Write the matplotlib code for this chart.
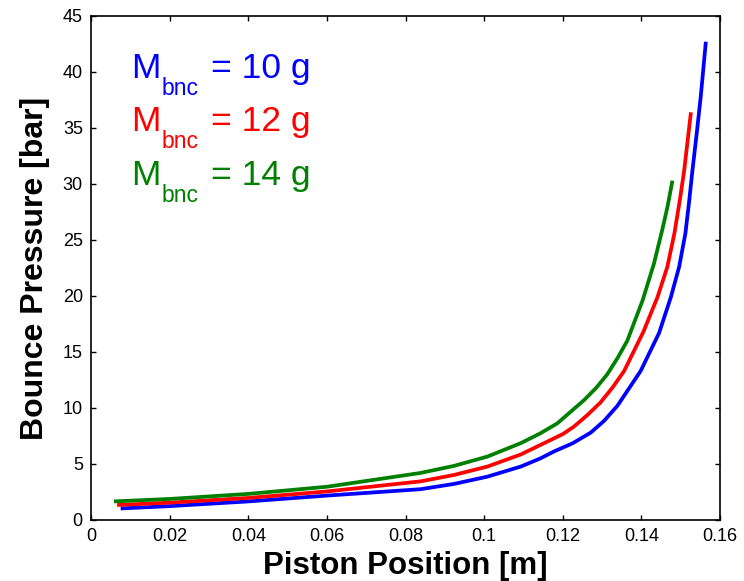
import matplotlib
matplotlib.use("Agg")
import matplotlib.pyplot as plt

plt.rcParams['font.family'] = ['Liberation Sans', 'DejaVu Sans']

# Bounce chamber pressure vs. piston position for three bouncer masses
pos_10g = [0.0075, 0.02, 0.04, 0.06, 0.0838, 0.0923, 0.1008, 0.1093, 0.1143,
           0.1177, 0.1225, 0.1271, 0.1305, 0.1339, 0.1398, 0.1445, 0.1475,
           0.1496, 0.1512, 0.1521, 0.1530, 0.1541, 0.1551, 0.1564]
p_10g = [1.03, 1.24, 1.66, 2.18, 2.75, 3.22, 3.87, 4.77, 5.5,
         6.11, 6.85, 7.8, 8.85, 10.2, 13.3, 16.7, 19.9,
         22.6, 25.6, 28.3, 31.25, 34.6, 37.8, 42.7]

pos_12g = [0.0066, 0.02, 0.04, 0.06, 0.0838, 0.0923, 0.1008, 0.1093, 0.1143,
           0.12, 0.1228, 0.1262, 0.1296, 0.1326, 0.1356, 0.1405, 0.1441,
           0.1466, 0.1484, 0.1498, 0.1509, 0.1526]
p_12g = [1.34, 1.55, 1.97, 2.55, 3.45, 4.02, 4.77, 5.85, 6.7,
         7.67, 8.33, 9.35, 10.5, 11.8, 13.3, 16.8, 19.9,
         22.6, 25.6, 28.6, 31.25, 36.4]

pos_14g = [0.0058, 0.02, 0.04, 0.06, 0.0838, 0.0923, 0.1008, 0.1093, 0.1143,
           0.1186, 0.1254, 0.1285, 0.1313, 0.1340, 0.1364, 0.1403, 0.1432,
           0.1453, 0.1466, 0.1479]
p_14g = [1.66, 1.88, 2.33, 2.97, 4.2, 4.83, 5.66, 6.86, 7.74,
         8.63, 10.7, 11.8, 13.0, 14.5, 16.0, 19.6, 22.9,
         25.9, 27.9, 30.3]

x_ticks = [0, 0.02, 0.04, 0.06, 0.08, 0.1, 0.12, 0.14, 0.16]
x_tick_labels = ['0', '0.02', '0.04', '0.06', '0.08', '0.1', '0.12', '0.14', '0.16']
y_ticks = [0, 5, 10, 15, 20, 25, 30, 35, 40, 45]

mass_labels = ['10 g', '12 g', '14 g']
colors = ['#0000ff', '#ff0000', '#008000']

W, H = 744, 581
fig = plt.figure(figsize=(W / 100, H / 100), dpi=100)
ax = fig.add_axes([91.2 / W, 1 - 520 / H, (720 - 91.2) / W, (520 - 16) / H])

for xs, ys, c in zip([pos_10g, pos_12g, pos_14g], [p_10g, p_12g, p_14g], colors):
    ax.plot(xs, ys, color=c, lw=2.7, solid_capstyle='butt',
            solid_joinstyle='round')

ax.set_xlim(0, 0.16)
ax.set_ylim(0, 45)
ax.set_xticks(x_ticks)
ax.set_xticklabels(x_tick_labels)
ax.set_yticks(y_ticks)
ax.tick_params(direction='in', length=3.5, width=1.0, labelsize=13,
               top=True, right=True, pad=6)
for s in ax.spines.values():
    s.set_linewidth(1.2)

ax.set_xlabel('Piston Position [m]', fontsize=22.5, fontweight='bold', labelpad=4)
ax.set_ylabel('Bounce Pressure [bar]', fontsize=23, fontweight='bold', labelpad=9)

# Mass annotations: "M" with a "bnc" subscript, then "= value"
for i, (lab, c) in enumerate(zip(mass_labels, colors)):
    base = 78 + i * 53.3
    fig.text(131 / W, 1 - base / H, 'M', color=c, fontsize=25.5, va='baseline')
    fig.text(161.5 / W, 1 - (base + 17) / H, 'bnc', color=c, fontsize=16.5,
             va='baseline')
    fig.text(211 / W, 1 - base / H, '= ' + lab, color=c, fontsize=25.5,
             va='baseline')

fig.savefig('out.png', dpi=100)
